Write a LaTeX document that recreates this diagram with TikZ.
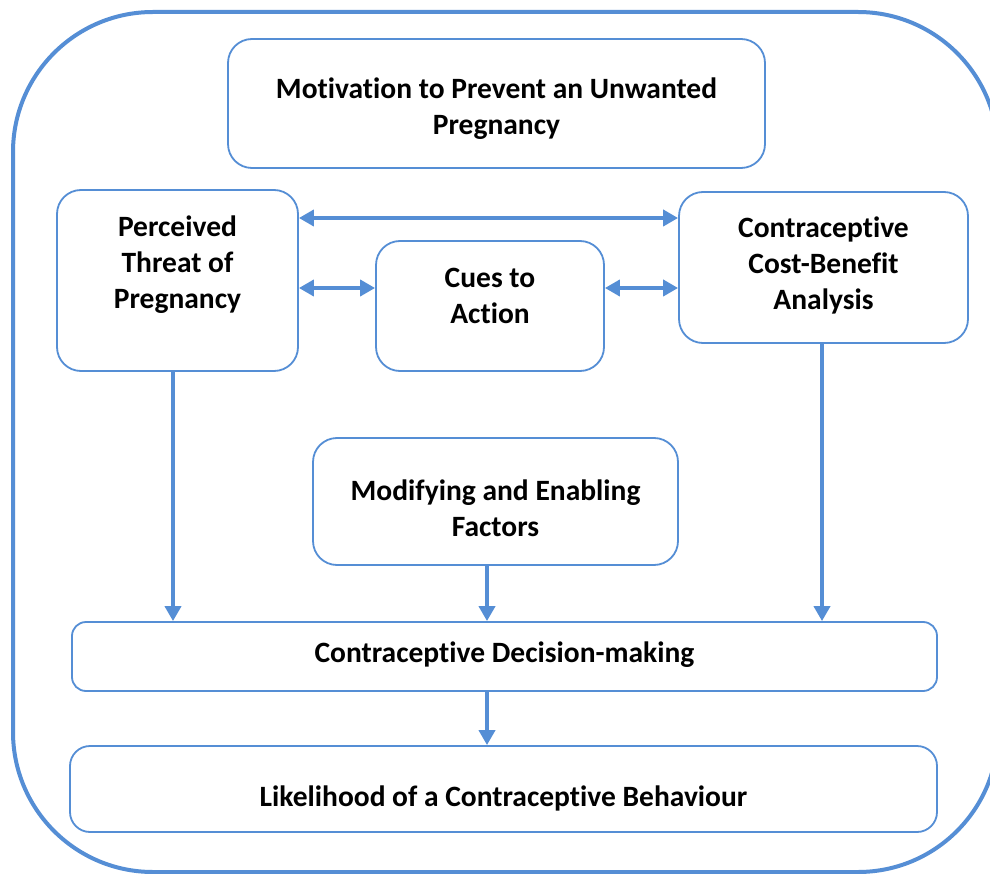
\documentclass[tikz,border=0pt]{standalone}
\usepackage{fontspec}
\setmainfont{Carlito}[Ligatures=NoCommon]
\usetikzlibrary{arrows.meta}
\definecolor{hbmblue}{RGB}{85,142,213}
\tikzset{
  box/.style={draw=hbmblue, line width=1.8pt, rounded corners=24pt, inner sep=0pt},
  txt/.style={font=\fontsize{29.5}{36}\selectfont\bfseries, align=center, inner sep=0pt},
  link/.style={draw=hbmblue, line width=3.8pt, -{Triangle[length=15pt,width=16pt]}},
  dlink/.style={draw=hbmblue, line width=3.8pt, {Triangle[length=15pt,width=16pt]}-{Triangle[length=15pt,width=16pt]}},
  frame/.style={draw=hbmblue, line width=4pt, rounded corners=140pt}
}
\begin{document}
\begin{tikzpicture}[x=1pt,y=-1pt]
\useasboundingbox (0,0) rectangle (990,874);
\fill[white] (0,0) rectangle (990,874);
% enclosing frame
\draw[frame] (13,12) rectangle (998,872);

% boxes
\node[box, minimum width=537pt, minimum height=129pt] (mot) at (496.5,103.5) {};
\node[box, minimum width=241pt, minimum height=181pt] (per) at (177.5,280.5) {};
\node[box, minimum width=289pt, minimum height=151pt] (cba) at (823.5,267.5) {};
\node[box, minimum width=228pt, minimum height=130pt] (cue) at (490,306) {};
\node[box, minimum width=365pt, minimum height=127pt] (mod) at (495.5,501.5) {};
\node[box, rounded corners=14pt, minimum width=865pt, minimum height=69pt] (dec) at (504.5,656.5) {};
\node[box, rounded corners=20pt, minimum width=867pt, minimum height=86pt] (lik) at (503.5,789) {};

% labels
\node[txt] (mot-t) at (496.5,108.5) {Motivation to Prevent an Unwanted\\Pregnancy};
\node[txt] (per-t) at (177.5,264.5) {Perceived\\Threat of\\Pregnancy};
\node[txt] (cba-t) at (823.5,265.5) {Contraceptive\\Cost-Benefit\\Analysis};
\node[txt] (cue-t) at (490,295.5) {Cues to\\Action};
\node[txt] (mod-t) at (495.5,508.5) {Modifying and Enabling\\Factors};
\node[txt] (dec-t) at (504.5,655) {Contraceptive Decision-making};
\node[txt] (lik-t) at (503.5,798) {Likelihood of a Contraceptive Behaviour};

% connectors
\draw[dlink] (per.east |- 0,218) -- (cba.west |- 0,218);
\draw[dlink] (per.east |- 0,288) -- (cue.west |- 0,288);
\draw[dlink] (cue.east |- 0,288) -- (cba.west |- 0,288);
\draw[link] (per.south -| 173,0) -- (dec.north -| 173,0);
\draw[link] (mod.south -| 487,0) -- (dec.north -| 487,0);
\draw[link] (cba.south -| 822,0) -- (dec.north -| 822,0);
\draw[link] (dec.south -| 487,0) -- (lik.north -| 487,0);
\end{tikzpicture}
\end{document}
